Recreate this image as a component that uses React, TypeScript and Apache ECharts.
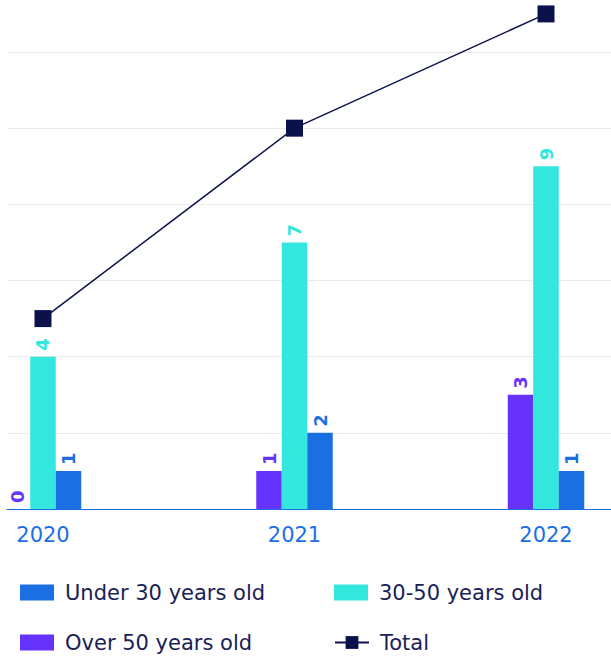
import React, { useEffect, useRef } from "react";
import * as echarts from "echarts";

const years = [2020, 2021, 2022];
const over50 = [0, 1, 3];
const mid3050 = [4, 7, 9];
const under30 = [1, 2, 1];
const total = [5, 10, 13];

const C_UNDER = "#1c6fe2";
const C_MID = "#33e6de";
const C_OVER = "#6633fd";
const C_TOTAL = "#0b124b";
const TEXT = "#1a2156";
const FONT = "'DejaVu Sans', 'Noto Sans', sans-serif";

export default function App() {
  const ref = useRef<HTMLDivElement>(null);
  useEffect(() => {
    if (!ref.current) return;
    const chart = echarts.init(ref.current, null, { renderer: "svg" });
    const barLabel = (color: string) => ({
      show: true,
      position: "top" as const,
      rotate: 90,
      align: "left" as const,
      verticalAlign: "middle" as const,
      distance: 6,
      color,
      fontSize: 18,
      fontWeight: "bold" as const,
      fontFamily: FONT,
    });
    const pairs = (arr: number[]) => years.map((y, i) => [y, arr[i]]);
    const legendBase = {
      padding: 0,
      itemWidth: 34,
      itemHeight: 16,
      textStyle: { fontSize: 21, color: TEXT, fontFamily: FONT, padding: [0, 0, 0, 6] },
    };
    chart.setOption({
      animation: false,
      grid: { left: 7, right: 0, top: 52, bottom: 151 },
      xAxis: {
        type: "value",
        min: 2019.8569,
        max: 2022.2584,
        splitLine: { show: false },
        axisLine: { show: true, lineStyle: { color: C_UNDER, width: 1 } },
        axisTick: { show: false },
        axisLabel: {
          customValues: years,
          formatter: (v: number) => String(v),
          color: C_UNDER,
          fontSize: 21,
          fontFamily: FONT,
          margin: 15,
        },
      },
      yAxis: {
        type: "value",
        min: 0,
        max: 12,
        interval: 2,
        axisLabel: { show: false },
        axisLine: { show: false },
        axisTick: { show: false },
        splitLine: { lineStyle: { color: "#ebebeb", width: 1 } },
      },
      legend: [
        { ...legendBase, icon: "rect", data: ["Under 30 years old"], left: 20, top: 582 },
        { ...legendBase, icon: "rect", data: ["30-50 years old"], left: 334, top: 582 },
        { ...legendBase, icon: "rect", data: ["Over 50 years old"], left: 20, top: 632 },
        { ...legendBase, data: ["Total"], left: 334, top: 632 },
      ],
      series: [
        {
          name: "Over 50 years old",
          type: "bar",
          data: pairs(over50),
          barWidth: 25.5,
          barGap: "0%",
          itemStyle: { color: C_OVER },
          label: barLabel(C_OVER),
        },
        {
          name: "30-50 years old",
          type: "bar",
          data: pairs(mid3050),
          barWidth: 25.5,
          barGap: "0%",
          itemStyle: { color: C_MID },
          label: barLabel(C_MID),
        },
        {
          name: "Under 30 years old",
          type: "bar",
          data: pairs(under30),
          barWidth: 25.5,
          barGap: "0%",
          itemStyle: { color: C_UNDER },
          label: barLabel(C_UNDER),
        },
        {
          name: "Total",
          type: "line",
          data: pairs(total),
          clip: false,
          symbol: "rect",
          symbolSize: [17, 17],
          lineStyle: { color: C_TOTAL, width: 1.5 },
          itemStyle: { color: C_TOTAL },
          z: 10,
        },
      ],
    });
    return () => chart.dispose();
  }, []);
  return (
    <div
      ref={ref}
      style={{ position: "absolute", left: 0, top: 0, width: 611, height: 660 }}
    />
  );
}
